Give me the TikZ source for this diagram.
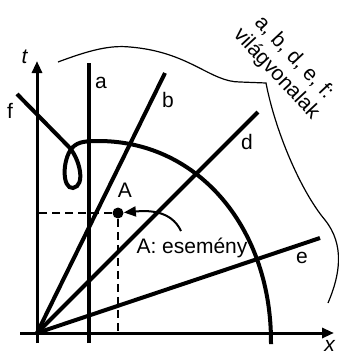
\documentclass[tikz,border=0pt]{standalone}
\usepackage{fontspec}
\setmainfont{Liberation Sans}
\usetikzlibrary{arrows.meta}
\begin{document}
\begin{tikzpicture}[x=0.5pt,y=-0.5pt,>={Triangle[length=6pt,width=5pt]},
  font=\fontsize{10.5}{12}\selectfont,
  axis/.style={line width=1.5pt},
  wline/.style={line width=2pt},
  guide/.style={line width=1pt,dash pattern=on 4pt off 2.5pt},
  border/.style={line width=0.6pt},
  evdot/.style={circle,fill,inner sep=0pt,minimum size=5.5pt}]
\useasboundingbox (0,0) rectangle (338,354);
% axes
\coordinate (O) at (37,333);
\coordinate (x0) at (20,333); \coordinate (x1) at (334,333);
\coordinate (t0) at (37,343); \coordinate (t1) at (37,61);
\draw[axis,->] (x0) -- (x1);
\draw[axis,->] (t0) -- (t1);
\node (tlab) at (25,57) {\textit{t}};
\node (xlab) at (330,346) {\textit{x}};
% world lines a, b, d, e
\coordinate (a0) at (89,343); \coordinate (a1) at (89,63);
\coordinate (b1) at (165,73); \coordinate (d1) at (258,112); \coordinate (e1) at (320,238);
\draw[wline] (a0) -- (a1);
\foreach \p in {b1,d1,e1}{\draw[wline] (O) -- (\p);}
\node (alab) at (101,83) {a};
\node (blab) at (168,100) {b};
\node (dlab) at (247,142) {d};
\node (elab) at (302,258) {e};
\node (flab) at (10,111) {f};
% world line f with loop
\draw[wline] (17,94) -- (68,146) .. controls (80,158) and (86,186) .. (73,188)
  .. controls (62,189) and (62,160) .. (72,148) .. controls (78,141) and (88,141) .. (100,141)
  .. controls (200,142) and (272,230) .. (271,344);
% event A
\node[evdot] (evA) at (118,213) {};
\node (Alab) at (125,190) {A};
\coordinate (tA) at (37,213); \coordinate (xA) at (118,333);
\draw[guide] (evA) -- (tA);
\draw[guide] (evA) -- (xA);
\node (evlab) at (192,248) {A: esemény};
\draw[line width=1pt,->] ([xshift=-5.5pt]evlab.north) to[out=115,in=5] (evA);
% border and caption
\draw[border] (58,62) .. controls (90,50) and (110,45) .. (130,47)
  .. controls (190,52) and (210,82) .. (240,82) -- (266,83)
  .. controls (275,130) and (300,190) .. (325,220) .. controls (345,245) and (340,275) .. (328,303);
\node[rotate=-47,align=center] (cap) at (285,66) {a, b, d, e, f:\\világvonalak};
\end{tikzpicture}
\end{document}
